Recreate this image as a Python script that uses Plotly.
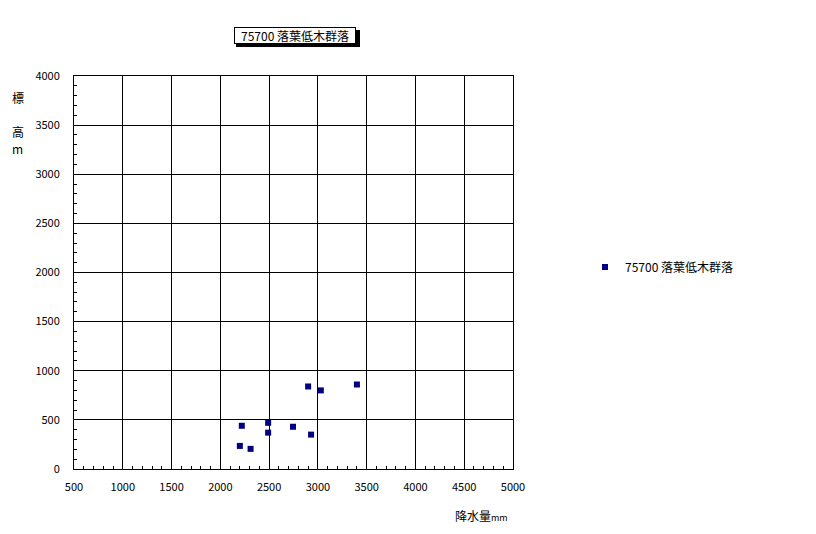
import plotly.graph_objects as go

series_name = "75700 落葉低木群落"
precip_mm = [2900, 3030, 3400, 2220, 2490, 2490, 2745, 2930, 2200, 2310]
elev_m = [840, 800, 860, 440, 470, 370, 430, 350, 235, 205]
x_ticks = [500, 1000, 1500, 2000, 2500, 3000, 3500, 4000, 4500, 5000]
y_ticks = [0, 500, 1000, 1500, 2000, 2500, 3000, 3500, 4000]

FONT = "Noto Sans CJK JP, DejaVu Sans, sans-serif"
L, R, T, B = 74, 513, 76, 469
W, H = 816, 534
pw, ph = R - L, B - T

def px(xp):
    return (xp - L) / pw

def py(yp):
    return (B - yp) / ph

fig = go.Figure()
fig.add_trace(go.Scatter(
    x=precip_mm, y=elev_m, mode="markers", name=series_name,
    marker=dict(symbol="square", size=6, color="#000080", line=dict(width=0)),
))

axis_common = dict(
    showgrid=True, gridcolor="black", gridwidth=1,
    showline=True, linecolor="black", linewidth=1, mirror=True,
    ticks="inside", ticklen=0, tickcolor="black",
    tickfont=dict(family=FONT, size=11, color="black"),
    zeroline=False,
)
fig.update_xaxes(range=[500, 5000], tickvals=x_ticks, ticklabelstandoff=8,
                 minor=dict(ticks="inside", dtick=100, ticklen=3, tickcolor="black", showgrid=False),
                 **axis_common)
fig.update_yaxes(range=[0, 4000], tickvals=y_ticks, ticklabelstandoff=11,
                 minor=dict(ticks="inside", dtick=100, ticklen=3, tickcolor="black", showgrid=False),
                 **axis_common)

# shadow of the title box
fig.add_shape(type="rect", xref="paper", yref="paper",
              x0=px(236), x1=px(360), y0=py(47), y1=py(30),
              fillcolor="black", line=dict(width=0), layer="above")

annots = [dict(
    text=series_name, xref="paper", yref="paper", x=px(295), y=py(35.5),
    xanchor="center", yanchor="middle", showarrow=False,
    width=120, height=15,
    font=dict(family=FONT, size=12, color="black"),
    bgcolor="white", bordercolor="black", borderwidth=1, borderpad=0,
)]
for ch, yp in [("標", 98), ("高", 131), ("m", 148)]:
    annots.append(dict(text=ch, xref="paper", yref="paper", x=px(18), y=py(yp),
                       xanchor="center", yanchor="middle",
                       showarrow=False, font=dict(family=FONT, size=12, color="black")))
annots.append(dict(text="降水量<span style='font-size:9px'>mm</span>", xref="paper", yref="paper",
                   x=px(481), y=py(515), xanchor="center", yanchor="middle", showarrow=False,
                   font=dict(family=FONT, size=12, color="black")))

fig.update_layout(
    width=W, height=H,
    margin=dict(l=L, r=W - R, t=T, b=H - B),
    plot_bgcolor="white", paper_bgcolor="white",
    showlegend=True,
    legend=dict(x=px(585), y=py(267), xanchor="left", yanchor="middle",
                font=dict(family=FONT, size=12, color="black"),
                bgcolor="rgba(0,0,0,0)", itemwidth=30),
    annotations=annots,
)

fig.write_html("out.html", config={"displayModeBar": False},
               post_script="document.body.style.margin='0';")
